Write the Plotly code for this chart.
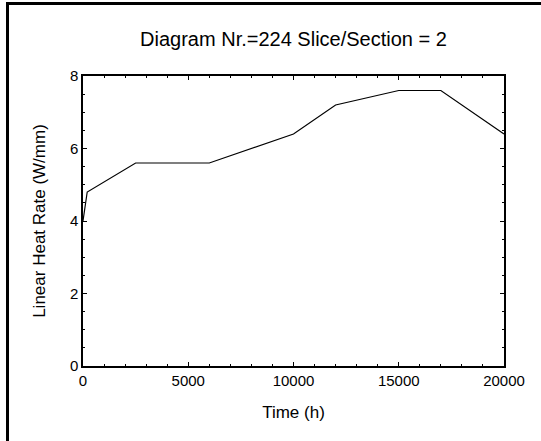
import plotly.graph_objects as go

time_h = [0, 200, 2500, 6000, 10000, 12000, 15000, 17000, 20000]
heat_rate = [4.0, 4.8, 5.6, 5.6, 6.4, 7.2, 7.6, 7.6, 6.4]
x_ticks = [0, 5000, 10000, 15000, 20000]
y_ticks = [0, 2, 4, 6, 8]

FONT = "Liberation Sans, Arial, sans-serif"
L, R, T, B = 83, 37, 76, 75
W, H = 541, 441

fig = go.Figure()
fig.add_trace(go.Scatter(x=time_h, y=heat_rate, mode="lines",
                         line=dict(color="black", width=1.2), showlegend=False))

axis_common = dict(
    showgrid=False, zeroline=False, showline=True, linecolor="black", linewidth=1.5,
    mirror="ticks", ticks="inside", ticklen=4, tickcolor="black", tickwidth=1,
    tickfont=dict(family=FONT, size=15, color="black"),
)
fig.update_xaxes(range=[0, 20000], tickvals=x_ticks, ticktext=[str(v) for v in x_ticks],
                 minor=dict(dtick=1000, ticks="inside", ticklen=2, tickcolor="black"),
                 title=dict(text="Time (h)", font=dict(family=FONT, size=17, color="black"), standoff=18),
                 **axis_common)
fig.update_yaxes(range=[0, 8], tickvals=y_ticks, ticktext=[str(v) for v in y_ticks],
                 minor=dict(dtick=0.5, ticks="inside", ticklen=2, tickcolor="black"),
                 title=dict(text="Linear Heat Rate (W/mm)", font=dict(family=FONT, size=17, color="black"), standoff=20),
                 **axis_common)

fig.update_layout(
    width=W, height=H, margin=dict(l=L, r=R, t=T, b=B),
    paper_bgcolor="white", plot_bgcolor="white",
    title=dict(text="Diagram Nr.=224 Slice/Section = 2", x=0.5, xref="paper", xanchor="center",
               y=(H - 39) / H, yanchor="middle", font=dict(family=FONT, size=20, color="black")),
)
fig.write_html("out.html", config={"displayModeBar": False})

with open("out.html", encoding="utf-8") as f:
    html = f.read()
html = html.replace("<head>", "<head><style>html,body{margin:0;padding:0;overflow:hidden;background:white}</style>", 1)
html = html.replace(
    "<body>",
    '<body><div style="position:fixed;left:6px;top:2px;width:1000px;height:1000px;'
    'border-left:3px solid black;border-top:3px solid black;pointer-events:none;z-index:10"></div>',
    1,
)
with open("out.html", "w", encoding="utf-8") as f:
    f.write(html)
